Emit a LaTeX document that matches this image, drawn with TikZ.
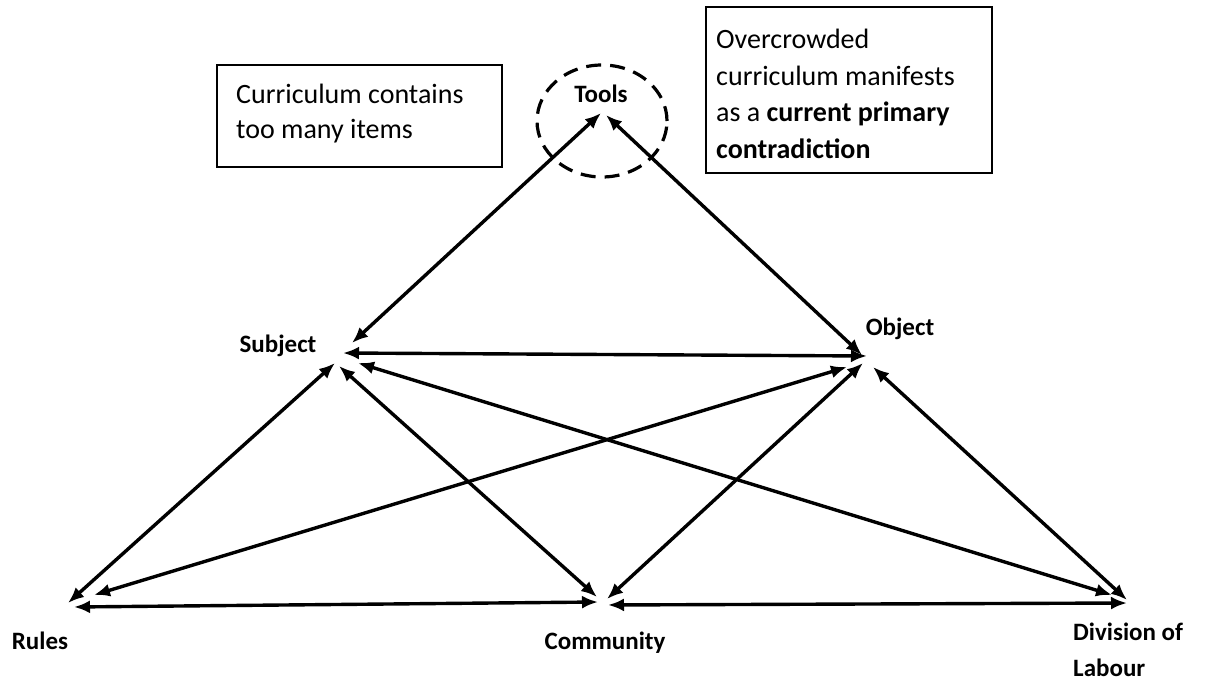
\documentclass[tikz,border=0pt]{standalone}
\usepackage{fontspec}
\setmainfont{Carlito}
\usetikzlibrary{arrows.meta,shapes.geometric}

\tikzset{
  vertex/.style={font=\fontsize{25}{30}\selectfont\bfseries, inner sep=0pt},
  link/.style={line width=3.4pt, {Latex[length=16pt,width=13pt]}-{Latex[length=16pt,width=13pt]}},
  notetext/.style={align=left, anchor=north west, inner sep=0pt},
  ring/.style={ellipse, draw, line width=3.2pt, dash pattern=on 15pt off 9pt,
    minimum width=130pt, minimum height=112pt, inner sep=0pt}
}

\begin{document}
\begin{tikzpicture}[x=1pt,y=-1pt]
  \useasboundingbox (0,0) rectangle (1208,684);
  \fill[white] (0,0) rectangle (1208,684);

  % activity system labels
  \node[vertex] (tools)     at (601,94)  {Tools};
  \node[vertex] (subject)   at (278,346) {Subject};
  \node[vertex] (object)    at (900,329) {Object};
  \node[vertex] (rules)     at (40,641)  {Rules};
  \node[vertex] (community) at (605,643) {Community};
  \node[vertex, align=left, anchor=north west, font=\fontsize{25}{36}\selectfont\bfseries]
    (division) at (1073,623) {Division of\\Labour};

  % dashed ring marking the tools
  \node[ring] (toolsring) at (602,121) {};

  % annotation boxes
  \draw[line width=1.2pt] (217,65) rectangle (502,167);
  \node[notetext, font=\fontsize{28}{35}\selectfont]
    (note1) at (236,84) {Curriculum contains\\too many items};
  \draw[line width=1.2pt] (706,7) rectangle (992,173);
  \node[notetext, font=\fontsize{28}{36.5}\selectfont]
    (note2) at (716,29) {Overcrowded\\curriculum manifests\\as a \textbf{current primary}\\\textbf{contradiction}};

  % connector end points around each vertex
  \coordinate (t-s) at (601,113);
  \coordinate (t-o) at (606,115);

  \coordinate (s-t) at (352,343);
  \coordinate (s-o) at (343,353);
  \coordinate (s-r) at (335,363);
  \coordinate (s-c) at (339,366);
  \coordinate (s-d) at (358,363);

  \coordinate (o-t) at (862,355);
  \coordinate (o-s) at (867,356);
  \coordinate (o-r) at (847,367);
  \coordinate (o-c) at (863,363);
  \coordinate (o-d) at (873,367);

  \coordinate (r-s) at (68,603);
  \coordinate (r-o) at (94,595);
  \coordinate (r-c) at (74,607);

  \coordinate (c-s) at (597,597);
  \coordinate (c-o) at (607,599);
  \coordinate (c-r) at (598,602);
  \coordinate (c-d) at (608,605);

  \coordinate (d-s) at (1112,595);
  \coordinate (d-o) at (1127,600);
  \coordinate (d-c) at (1127,603);

  % mediating relations
  \draw[link] (s-t) -- (t-s);
  \draw[link] (o-t) -- (t-o);
  \draw[link] (s-o) -- (o-s);
  \draw[link] (r-s) -- (s-r);
  \draw[link] (c-s) -- (s-c);
  \draw[link] (d-s) -- (s-d);
  \draw[link] (r-o) -- (o-r);
  \draw[link] (c-o) -- (o-c);
  \draw[link] (d-o) -- (o-d);
  \draw[link] (r-c) -- (c-r);
  \draw[link] (c-d) -- (d-c);
\end{tikzpicture}
\end{document}
